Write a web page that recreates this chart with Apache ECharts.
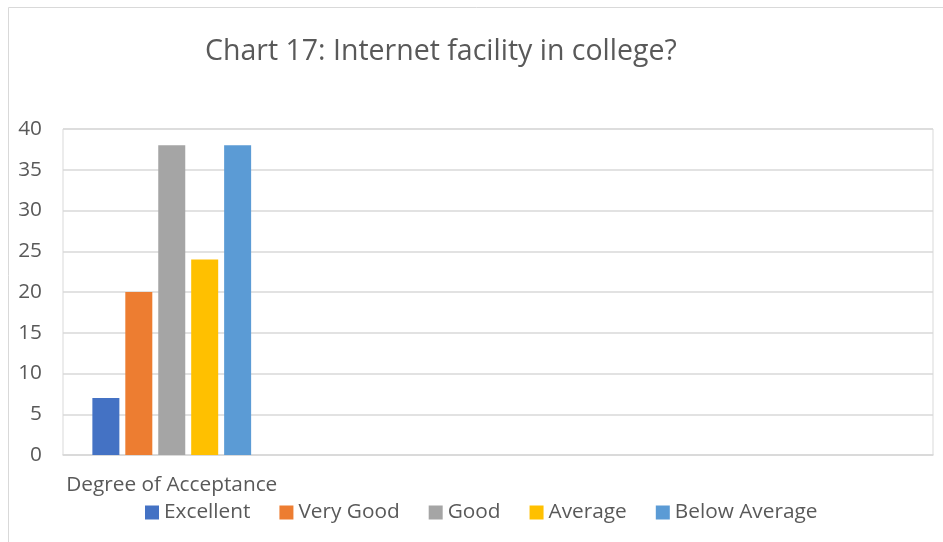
<!DOCTYPE html>
<html>
<head>
<meta charset="utf-8">
<script src="https://cdn.jsdelivr.net/npm/echarts@6/dist/echarts.min.js"></script>
<style>
html, body { margin: 0; padding: 0; background: #fff; }
#chart { width: 943px; height: 542px; }
</style>
</head>
<body>
<div id="chart"></div>
<script>
var categories = ['Degree of Acceptance', '', '', ''];
var seriesNames = ['Excellent', 'Very Good', 'Good', 'Average', 'Below Average'];
var seriesValues = [7, 20, 38, 24, 38];
var seriesColors = ['#4472C4', '#ED7D31', '#A5A5A5', '#FFC000', '#5B9BD5'];
var yTicks = { min: 0, max: 40, step: 5 };

var chart = echarts.init(document.getElementById('chart'));
var textColor = '#595959';
var fontFamily = '"Open Sans", sans-serif';

var series = seriesNames.map(function (name, i) {
    return {
        name: name,
        type: 'bar',
        data: [seriesValues[i]],
        barWidth: 27,
        barGap: '22%',
        itemStyle: { color: seriesColors[i] }
    };
});

chart.setOption({
    animation: false,
    graphic: [{
        type: 'rect',
        shape: { x: 8.5, y: 7.5, width: 1000, height: 1000 },
        style: { fill: 'none', stroke: '#d9d9d9', lineWidth: 1 }
    }],
    title: {
        text: 'Chart 17: Internet facility in college?',
        left: 200,
        top: 32,
        textStyle: { color: textColor, fontSize: 28.5, fontWeight: 'normal', fontFamily: fontFamily }
    },
    legend: {
        data: seriesNames,
        left: 140,
        top: 497,
        icon: 'rect',
        itemWidth: 14,
        itemHeight: 14,
        itemGap: 29,
        textStyle: { color: textColor, fontSize: 20.8, fontFamily: fontFamily }
    },
    grid: {
        left: 63,
        right: 10,
        top: 129,
        bottom: 87,
        show: true,
        borderColor: '#d9d9d9',
        borderWidth: 1
    },
    xAxis: {
        type: 'category',
        data: categories,
        axisTick: { show: false },
        axisLine: { lineStyle: { color: '#d9d9d9', width: 1.5 } },
        axisLabel: { color: textColor, fontSize: 20.8, fontFamily: fontFamily, margin: 20 }
    },
    yAxis: {
        type: 'value',
        min: yTicks.min,
        max: yTicks.max,
        interval: yTicks.step,
        axisLine: { show: false },
        axisTick: { show: false },
        splitLine: { lineStyle: { color: '#d9d9d9', width: 1.5 } },
        axisLabel: { color: textColor, fontSize: 20.8, fontFamily: fontFamily, margin: 21 }
    },
    series: series
});
</script>
</body>
</html>
